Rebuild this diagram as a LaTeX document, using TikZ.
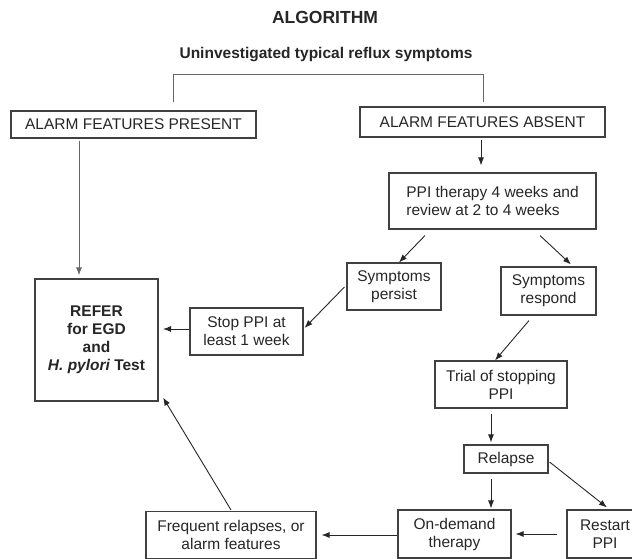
\documentclass[tikz,border=0pt]{standalone}
\usepackage{fontspec}
\setmainfont{Liberation Sans}
\usetikzlibrary{arrows.meta}
\begin{document}
\begin{tikzpicture}[x=1pt,y=-1pt,
  box/.style={draw=black!75,line width=1.1pt,inner sep=0pt,align=center,
    font=\fontsize{15.5}{18}\selectfont,text=black!85},
  arr/.style={draw=black!85,line width=0.9pt,-{Latex[length=8pt,width=6pt]}},
  gline/.style={draw=black!60,line width=1pt},
  garr/.style={gline,-{Latex[length=8pt,width=6pt]}}]
\useasboundingbox (0,0) rectangle (632,559);
\clip (0,0) rectangle (632,559);
\node[font=\fontsize{17.5}{20}\selectfont\bfseries,text=black!85] (title) at (325,17.5) {ALGORITHM};
\node[font=\fontsize{15.5}{18}\selectfont\bfseries,text=black!85] (start) at (326,55) {Uninvestigated typical reflux symptoms};
\node[box,minimum width=245pt,minimum height=27pt] (present) at (133.5,124.5) {ALARM FEATURES PRESENT};
\node[box,minimum width=245pt,minimum height=30pt] (absent) at (482.5,122) {ALARM FEATURES ABSENT};
\node[box,align=left,minimum width=207pt,minimum height=56pt] (ppi) at (492.5,201) {PPI therapy 4 weeks and\\review at 2 to 4 weeks};
\node[box,minimum width=94pt,minimum height=47pt] (persist) at (394,286.5) {Symptoms\\persist};
\node[box,minimum width=95pt,minimum height=48pt] (respond) at (548.5,291) {Symptoms\\respond};
\node[box,minimum width=123pt,minimum height=122pt] (refer) at (96.5,340) {\bfseries REFER\\\bfseries for EGD\\\bfseries and\\\bfseries\itshape H. pylori\upshape\ Test};
\node[box,minimum width=113pt,minimum height=47pt] (stop) at (246.5,331.5) {Stop PPI at\\least 1 week};
\node[box,minimum width=132pt,minimum height=47pt] (trial) at (501,384.5) {Trial of stopping\\PPI};
\node[box,minimum width=84pt,minimum height=28pt] (relapse) at (506,459) {Relapse};
\node[box,minimum width=113pt,minimum height=48pt] (ondemand) at (454.5,534) {On-demand\\therapy};
\node[box,minimum width=76pt,minimum height=48pt] (restart) at (605,534) {Restart\\PPI};
\node[box,minimum width=170pt,minimum height=47pt] (frequent) at (231,535) {Frequent relapses, or\\alarm features};
% bracket
\draw[gline] ([shift={(39.5,-8)}]present.north) -- ([shift={(39.5,-36)}]present.north) -| ([shift={(0.5,-4)}]absent.north);
% connectors
\draw[arr] ([shift={(-1.5,2)}]absent.south) -- ([shift={(-11.5,-7)}]ppi.north);
\draw[garr] ([shift={(-54.5,2)}]present.south) -- ([shift={(-17.5,-3)}]refer.north);
\draw[arr] ([shift={(-67.5,6)}]ppi.south) -- ([shift={(5,0)}]persist.north);
\draw[arr] ([shift={(47.5,6)}]ppi.south) -- ([shift={(22.5,-2)}]respond.north);
\draw[arr] ([shift={(-2,0.5)}]persist.west) -- ([shift={(1,-3.5)}]stop.east);
\draw[arr] ([shift={(0,-2.5)}]stop.west) -- ([shift={(4.5,-11)}]refer.east);
\draw[arr] ([shift={(-19.5,5)}]respond.south) -- ([shift={(-6,0)}]trial.north);
\draw[arr] ([shift={(-10,5)}]trial.south) -- ([shift={(-15,-2)}]relapse.north);
\draw[arr] ([shift={(-15,5)}]relapse.south) -- ([shift={(36.5,-1)}]ondemand.north);
\draw[arr] ([shift={(1,3)}]relapse.east) -- ([shift={(2,-2)}]restart.north);
\draw[arr] ([shift={(-9,0)}]restart.west) -- ([shift={(4,0)}]ondemand.east);
\draw[arr] ([shift={(0,1)}]ondemand.west) -- ([shift={(5,0)}]frequent.east);
\draw[arr] ([shift={(0,-1)}]frequent.north) -- ([shift={(4.5,-4)}]refer.south east);
\end{tikzpicture}
\end{document}
